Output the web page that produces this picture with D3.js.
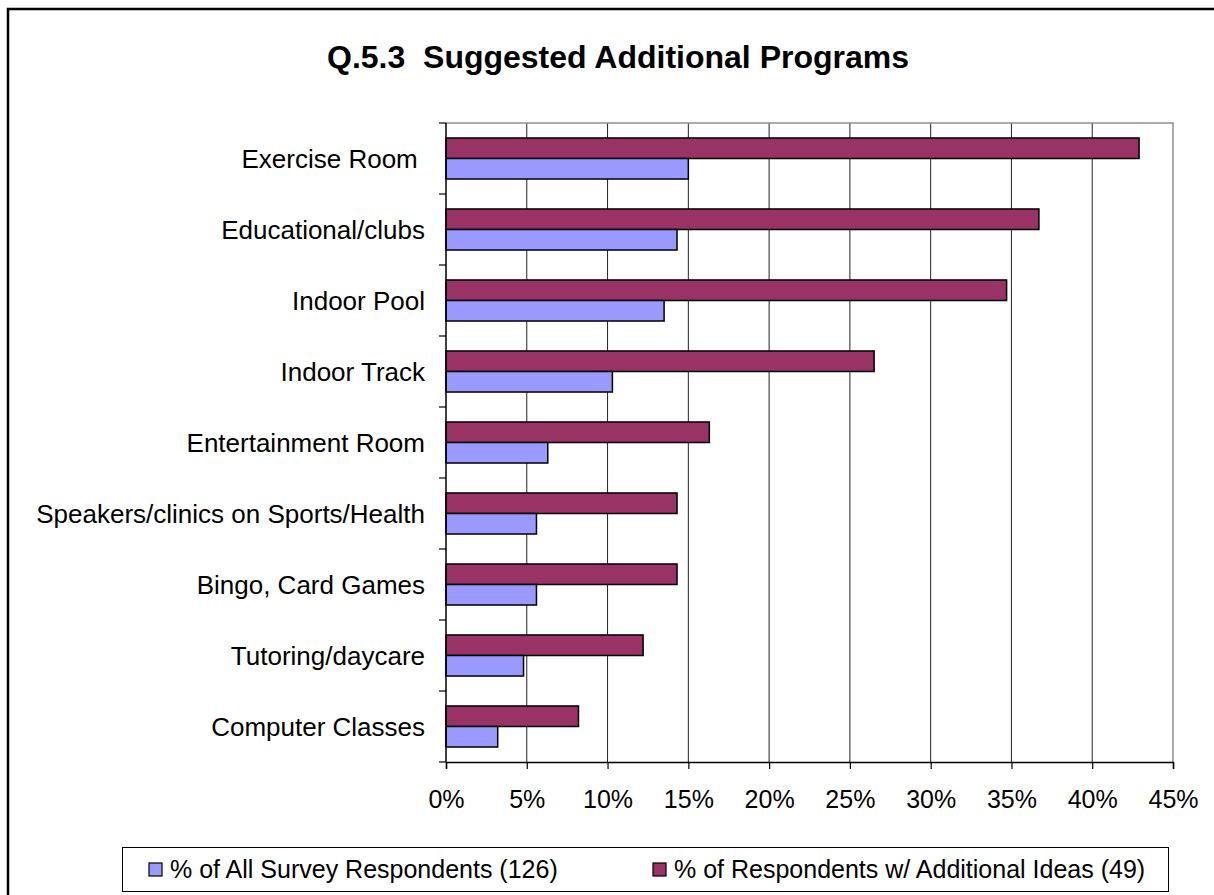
<!DOCTYPE html>
<html>
<head>
<meta charset="utf-8">
<script src="https://cdn.jsdelivr.net/npm/d3@7"></script>
<style>
  body { margin: 0; background: #fff; }
  text { font-family: "Liberation Sans", Arial, sans-serif; fill: #000; }
</style>
</head>
<body>
<div id="chart"></div>
<script>
// categories top to bottom
var categories = [
    "Exercise Room ",
    "Educational/clubs",
    "Indoor Pool",
    "Indoor Track",
    "Entertainment Room",
    "Speakers/clinics on Sports/Health",
    "Bingo, Card Games",
    "Tutoring/daycare",
    "Computer Classes"
];

// % of respondents w/ additional ideas (49)
var ideasValues = [42.9, 36.7, 34.7, 26.5, 16.3, 14.3, 14.3, 12.2, 8.2];
// % of all survey respondents (126)
var allValues = [15.0, 14.3, 13.5, 10.3, 6.3, 5.6, 5.6, 4.8, 3.2];

var seriesNames = [
    "% of Respondents w/ Additional Ideas (49)",
    "% of All Survey Respondents (126)"
];
var tickValues = [0, 5, 10, 15, 20, 25, 30, 35, 40, 45];

var colors = { ideas: "#993366", all: "#9999ff" };

var width = 1214;
var height = 895;
var plot = { left: 446, right: 1173, top: 123, bottom: 762 };

var svg = d3.select("#chart")
    .append("svg")
    .attr("width", width)
    .attr("height", height);

// outer chart frame (runs off the picture to the right and bottom)
svg.append("rect")
    .attr("x", 8)
    .attr("y", 9)
    .attr("width", 1400)
    .attr("height", 1000)
    .attr("fill", "none")
    .attr("stroke", "#000")
    .attr("stroke-width", 2.5);

svg.append("text")
    .attr("x", 618)
    .attr("y", 68)
    .attr("text-anchor", "middle")
    .style("font-size", "32px")
    .style("font-weight", "bold")
    .style("white-space", "pre")
    .text("Q.5.3  Suggested Additional Programs");

var xScale = d3.scaleLinear()
    .domain([0, 45])
    .range([plot.left, plot.right]);

var yScale = d3.scaleBand()
    .domain(categories)
    .range([plot.top, plot.bottom])
    .padding(0);

var inner = d3.scaleBand()
    .domain(["ideas", "all"])
    .range([0, yScale.bandwidth()])
    .paddingInner(0)
    .paddingOuter(0.73);

// gridlines
svg.append("g")
    .selectAll("line")
    .data(tickValues.filter(function (d) { return d > 0 && d < 45; }))
    .enter()
    .append("line")
    .attr("x1", function (d) { return xScale(d); })
    .attr("x2", function (d) { return xScale(d); })
    .attr("y1", plot.top)
    .attr("y2", plot.bottom)
    .attr("stroke", "#222")
    .attr("stroke-width", 1);

// plot area border, top and right in grey
svg.append("path")
    .attr("d", "M" + plot.left + "," + plot.top + "H" + plot.right + "V" + plot.bottom)
    .attr("fill", "none")
    .attr("stroke", "#909090")
    .attr("stroke-width", 1.5);

var rows = categories.map(function (c, i) {
    return { name: c, ideas: ideasValues[i], all: allValues[i] };
});

var bars = [];
rows.forEach(function (r) {
    bars.push({ name: r.name, key: "ideas", value: r.ideas });
    bars.push({ name: r.name, key: "all", value: r.all });
});

svg.append("g")
    .selectAll("rect")
    .data(bars)
    .enter()
    .append("rect")
    .attr("x", xScale(0))
    .attr("y", function (d) { return yScale(d.name) + inner(d.key); })
    .attr("width", function (d) { return xScale(d.value) - xScale(0); })
    .attr("height", inner.bandwidth())
    .attr("fill", function (d) { return colors[d.key]; })
    .attr("stroke", "#000")
    .attr("stroke-width", 1.5);

// y axis: ticks on the category boundaries
var yAxis = svg.append("g")
    .attr("transform", "translate(" + plot.left + ",0)");
yAxis.append("line")
    .attr("x1", 0).attr("x2", 0)
    .attr("y1", plot.top).attr("y2", plot.bottom)
    .attr("stroke", "#000").attr("stroke-width", 1.5);
yAxis.selectAll(".tick")
    .data(categories.map(function (c) { return yScale(c); }).concat([plot.bottom]))
    .enter()
    .append("line")
    .attr("x1", -7).attr("x2", 0)
    .attr("y1", function (d) { return d; })
    .attr("y2", function (d) { return d; })
    .attr("stroke", "#000").attr("stroke-width", 1.2);
yAxis.selectAll("text")
    .data(categories)
    .enter()
    .append("text")
    .attr("x", -21)
    .attr("y", function (d) { return yScale(d) + yScale.bandwidth() / 2; })
    .attr("dy", "0.35em")
    .attr("text-anchor", "end")
    .style("font-size", "26px")
    .style("white-space", "pre")
    .text(function (d) { return d; });

// x axis
var xAxis = svg.append("g")
    .attr("transform", "translate(0," + plot.bottom + ")")
    .call(d3.axisBottom(xScale)
        .tickValues(tickValues)
        .tickSize(7)
        .tickFormat(function (d) { return d + "%"; }));
xAxis.select(".domain").attr("stroke", "#000").attr("stroke-width", 1.5);
xAxis.selectAll(".tick line").attr("stroke", "#000").attr("stroke-width", 1.2);
xAxis.selectAll(".tick text")
    .attr("y", 46)
    .attr("dy", 0)
    .style("font-size", "25px")
    .style("font-family", "'Liberation Sans', Arial, sans-serif")
    .attr("fill", "#000");

// legend
var legend = svg.append("g");
legend.append("rect")
    .attr("x", 122.5)
    .attr("y", 847.5)
    .attr("width", 1046)
    .attr("height", 44)
    .attr("fill", "#fff")
    .attr("stroke", "#000")
    .attr("stroke-width", 1);

var legendItems = [
    { key: "all", label: seriesNames[1], x: 149 },
    { key: "ideas", label: seriesNames[0], x: 653 }
];
var li = legend.selectAll(".item")
    .data(legendItems)
    .enter()
    .append("g")
    .attr("transform", function (d) { return "translate(" + d.x + ",0)"; });
li.append("rect")
    .attr("x", 0)
    .attr("y", 863)
    .attr("width", 13)
    .attr("height", 13)
    .attr("fill", function (d) { return colors[d.key]; })
    .attr("stroke", "#000")
    .attr("stroke-width", 1.2);
li.append("text")
    .attr("x", 21)
    .attr("y", 878)
    .style("font-size", "25px")
    .text(function (d) { return d.label; });
</script>
</body>
</html>
